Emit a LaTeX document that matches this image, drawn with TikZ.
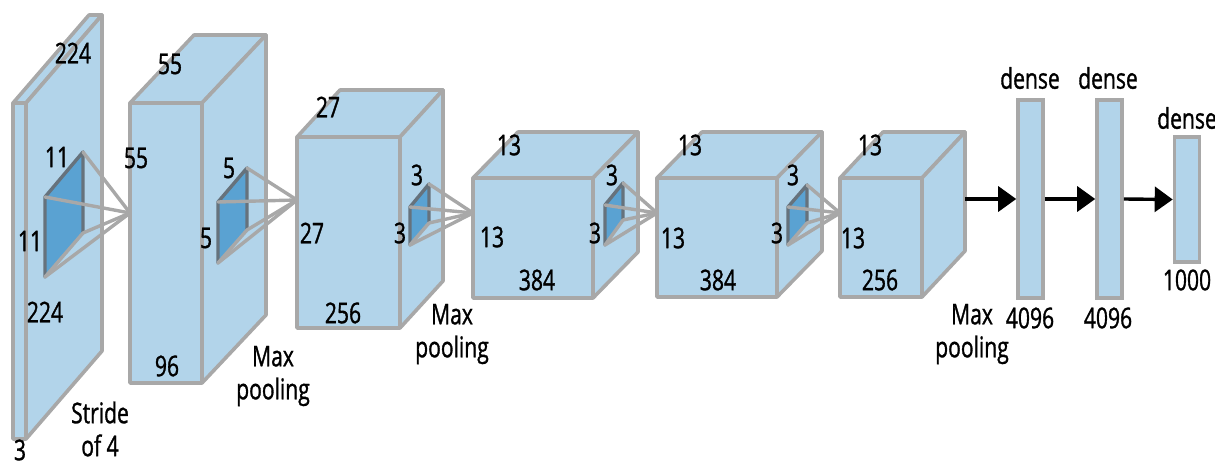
\documentclass[tikz,border=0pt]{standalone}
\usepackage{fontspec}
\setmainfont{Open Sans}[FakeStretch=0.74,FakeBold=1.1]
\usetikzlibrary{arrows.meta}
\definecolor{boxfill}{HTML}{B2D4EA}
\definecolor{boxline}{HTML}{A8A8A8}
\definecolor{kfill}{HTML}{5AA2D2}
\definecolor{kedge}{HTML}{66727C}
\newcommand\cuboid[7]{%
  \coordinate (#1-a) at (#2,#3);
  \coordinate (#1-b) at (#4,#3);
  \coordinate (#1-c) at (#4,#5);
  \coordinate (#1-d) at (#2,#5);
  \coordinate (#1-e) at ([shift={(#6,#7)}]#1-a);
  \coordinate (#1-f) at ([shift={(#6,#7)}]#1-b);
  \coordinate (#1-g) at ([shift={(#6,#7)}]#1-c);
  \draw[boxstyle] (#1-a) -- (#1-b) -- (#1-c) -- (#1-d) -- cycle;
  \draw[boxstyle] (#1-a) -- (#1-e) -- (#1-f) -- (#1-b) -- cycle;
  \draw[boxstyle] (#1-b) -- (#1-f) -- (#1-g) -- (#1-c) -- cycle;
}
\newcommand\kernelpyr[8]{%
  \coordinate (#1-tl) at (#2,#3);
  \coordinate (#1-bl) at (#2,#4);
  \coordinate (#1-tr) at (#5,#6);
  \coordinate (#1-br) at (#5,#7);
  \fill[kfill] (#1-tl) -- (#1-tr) -- (#1-br) -- (#1-bl) -- cycle;
  \draw[kedgestyle] (#1-bl) -- (#1-tl) -- (#1-tr) -- (#1-br);
  \draw[klinestyle] (#1-bl) -- (#1-br);
  \draw[klinestyle] (#1-tl) -- (#8);
  \draw[klinestyle] (#1-tr) -- (#8);
  \draw[klinestyle] (#1-bl) -- (#8);
  \draw[klinestyle] (#1-br) -- (#8);
}
\begin{document}
\begin{tikzpicture}[x=1pt,y=-1pt,
  boxstyle/.style={fill=boxfill,draw=boxline,line width=3.6pt,line join=round},
  kedgestyle/.style={draw=kedge,line width=3.4pt,line join=round,line cap=round},
  klinestyle/.style={draw=boxline,line width=3.4pt,line cap=round},
  lbl/.style={font=\fontsize{28.5}{33}\selectfont,inner sep=0pt,align=center},
  densebox/.style={fill=boxfill,draw=boxline,line width=3.6pt,minimum width=25pt,inner sep=0pt},
  arr/.style={line width=3.4pt,-{Triangle[length=18pt,width=25pt]}}]
\useasboundingbox (0,0) rectangle (1215,465);
% blocks
\cuboid{b1}{13}{103}{26}{439}{76}{-88}
\cuboid{b2}{130}{103}{202}{383}{64}{-68}
\cuboid{b3}{297}{137}{400}{328}{43}{-47}
\cuboid{b4}{473}{178}{593}{298}{45}{-46}
\cuboid{b5}{657}{178}{777}{297}{45}{-46}
\cuboid{b6}{840}{178}{922}{297}{43}{-46}
% apexes on next block's left edge
\coordinate (ap1) at (130,213);
\coordinate (ap2) at (297,200);
\coordinate (ap3) at (473,213);
\coordinate (ap4) at (657,213);
\coordinate (ap5) at (840,213);
% kernels
\kernelpyr{k1}{45}{197}{277}{83}{152}{233}{ap1}
\kernelpyr{k2}{218}{202}{263}{247}{168}{230}{ap2}
\kernelpyr{k3}{410}{207}{245}{429}{184}{223}{ap3}
\kernelpyr{k4}{605}{205}{245}{623}{183}{220}{ap4}
\kernelpyr{k5}{788}{207}{245}{807}{185}{223}{ap5}
% dense layers
\node[densebox,minimum height=198pt] (d1) at (1030.5,199) {};
\node[densebox,minimum height=198pt] (d2) at (1109.5,199) {};
\node[densebox,minimum height=125pt] (d3) at (1187,199.5) {};
\coordinate (b6out) at (965,199);
\draw[arr] (b6out) -- (d1.west);
\draw[arr] (d1.east) -- (d2.west);
\draw[arr] (d2.east) -- (d3.west);
% labels block 1
\node[lbl] (t1a) at (73,53) {224};
\node[lbl] (t1b) at (57,157) {11};
\node[lbl] (t1c) at (30,241) {11};
\node[lbl] (t1d) at (45,312) {224};
\node[lbl] (t1e) at (20,450) {3};
\node[lbl] (t1f) at (100,429) {Stride\\of 4};
% block 2
\node[lbl] (t2a) at (170,64) {55};
\node[lbl] (t2b) at (136,158) {55};
\node[lbl] (t2c) at (167,366) {96};
\node[lbl] (t2d) at (229,168) {5};
\node[lbl] (t2e) at (206,238) {5};
\node[lbl] (t2f) at (273,376) {Max\\pooling};
% block 3
\node[lbl] (t3a) at (328,107) {27};
\node[lbl] (t3b) at (312,233) {27};
\node[lbl] (t3c) at (343,313) {256};
\node[lbl] (t3d) at (417,175) {3};
\node[lbl] (t3e) at (400,233) {3};
\node[lbl] (t3f) at (452,334) {Max\\pooling};
% block 4
\node[lbl] (t4a) at (509,145) {13};
\node[lbl] (t4b) at (492,237) {13};
\node[lbl] (t4c) at (537,280) {384};
\node[lbl] (t4d) at (612,175) {3};
\node[lbl] (t4e) at (595,233) {3};
% block 5
\node[lbl] (t5a) at (690,145) {13};
\node[lbl] (t5b) at (673,238) {13};
\node[lbl] (t5c) at (718,280) {384};
\node[lbl] (t5d) at (793,175) {3};
\node[lbl] (t5e) at (777,233) {3};
% block 6
\node[lbl] (t6a) at (870,145) {13};
\node[lbl] (t6b) at (853,238) {13};
\node[lbl] (t6c) at (880,280) {256};
\node[lbl] (t6f) at (972,334) {Max\\pooling};
% dense labels
\node[lbl] (t7a) at (1030,78) {dense};
\node[lbl] (t7b) at (1108,78) {dense};
\node[lbl] (t7c) at (1187,118) {dense};
\node[lbl] (t7d) at (1030,318) {4096};
\node[lbl] (t7e) at (1108,318) {4096};
\node[lbl] (t7f) at (1187,280) {1000};
\end{tikzpicture}
\end{document}
